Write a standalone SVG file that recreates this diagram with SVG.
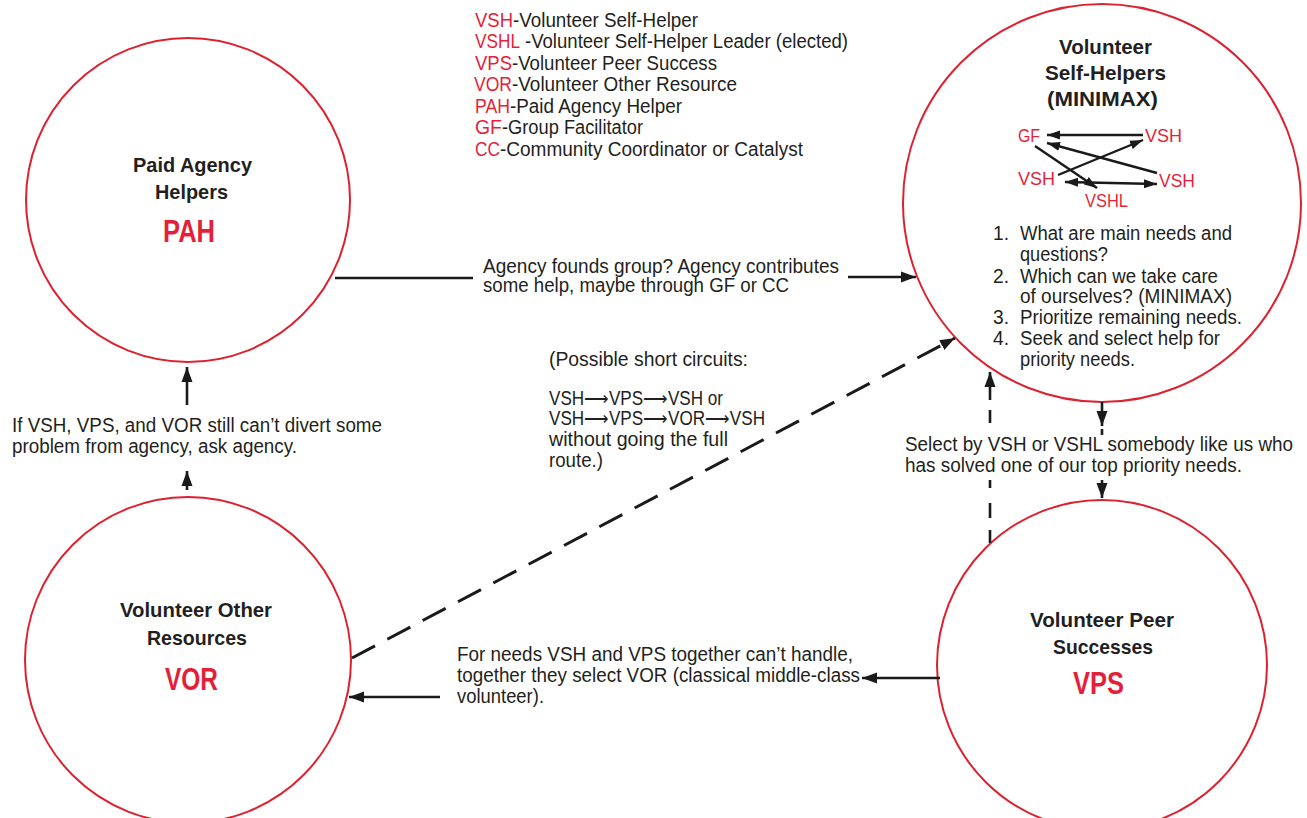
<svg xmlns="http://www.w3.org/2000/svg" width="1307" height="818" viewBox="0 0 1307 818">
<style>
text{font-family:"Liberation Sans Narrow","Liberation Sans",Arial,sans-serif;font-size:20px;fill:#231f20}
.r{fill:#e41f3a}
.b{font-weight:bold;font-size:21px}
.big{font-size:32px;font-weight:bold;fill:#e41f3a}
.m{font-size:18px;fill:#e41f3a}
.ring{fill:none;stroke:#dc2230;stroke-width:2}
.c{stroke:#1a1a1a;stroke-width:2.6;fill:none}
.d{stroke-dasharray:26 14;stroke-width:3}
.s{stroke:#1a1a1a;stroke-width:2.4;fill:none}
</style>
<defs>
<marker id="ah" markerUnits="userSpaceOnUse" markerWidth="16" markerHeight="12" refX="15" refY="6" orient="auto-start-reverse">
<path d="M0,0.5 L15,6 L0,11.5 z" fill="#1a1a1a"/>
</marker>
<marker id="sh" markerUnits="userSpaceOnUse" markerWidth="14" markerHeight="10" refX="13" refY="5" orient="auto-start-reverse">
<path d="M0,0.5 L13,5 L0,9.5 z" fill="#1a1a1a"/>
</marker>
</defs>
<rect width="1307" height="818" fill="#ffffff"/>

<g id="legend">
<text x="475" y="27" class="r" textLength="38" lengthAdjust="spacingAndGlyphs">VSH</text>
<text x="513" y="27" textLength="185" lengthAdjust="spacingAndGlyphs">-Volunteer Self-Helper</text>
<text x="475" y="48" class="r" textLength="45" lengthAdjust="spacingAndGlyphs">VSHL</text>
<text x="525" y="48" textLength="323" lengthAdjust="spacingAndGlyphs">-Volunteer Self-Helper Leader (elected)</text>
<text x="475" y="70" class="r" textLength="37" lengthAdjust="spacingAndGlyphs">VPS</text>
<text x="512" y="70" textLength="205" lengthAdjust="spacingAndGlyphs">-Volunteer Peer Success</text>
<text x="474" y="91" class="r" textLength="38" lengthAdjust="spacingAndGlyphs">VOR</text>
<text x="512" y="91" textLength="225" lengthAdjust="spacingAndGlyphs">-Volunteer Other Resource</text>
<text x="475" y="113" class="r" textLength="35" lengthAdjust="spacingAndGlyphs">PAH</text>
<text x="510" y="113" textLength="172" lengthAdjust="spacingAndGlyphs">-Paid Agency Helper</text>
<text x="475" y="134" class="r" textLength="27" lengthAdjust="spacingAndGlyphs">GF</text>
<text x="502" y="134" textLength="141" lengthAdjust="spacingAndGlyphs">-Group Facilitator</text>
<text x="475" y="156" class="r" textLength="25" lengthAdjust="spacingAndGlyphs">CC</text>
<text x="500" y="156" textLength="303" lengthAdjust="spacingAndGlyphs">-Community Coordinator or Catalyst</text>
</g>

<g id="node-PAH">
<circle class="ring" cx="188" cy="200" r="162"/>
<text x="133" y="172" class="b" textLength="119" lengthAdjust="spacingAndGlyphs">Paid Agency</text>
<text x="155" y="199" class="b" textLength="73" lengthAdjust="spacingAndGlyphs">Helpers</text>
<text x="163" y="242" class="big" textLength="52" lengthAdjust="spacingAndGlyphs">PAH</text>
</g>

<g id="node-VOR">
<circle class="ring" cx="188" cy="660" r="163"/>
<text x="120" y="617" class="b" textLength="152" lengthAdjust="spacingAndGlyphs">Volunteer Other</text>
<text x="147" y="645" class="b" textLength="100" lengthAdjust="spacingAndGlyphs">Resources</text>
<text x="165" y="690" class="big" textLength="53" lengthAdjust="spacingAndGlyphs">VOR</text>
</g>

<g id="node-VPS">
<circle class="ring" cx="1102" cy="665" r="165"/>
<text x="1030" y="627" class="b" textLength="144" lengthAdjust="spacingAndGlyphs">Volunteer Peer</text>
<text x="1053" y="654" class="b" textLength="100" lengthAdjust="spacingAndGlyphs">Successes</text>
<text x="1073" y="694" class="big" textLength="51" lengthAdjust="spacingAndGlyphs">VPS</text>
</g>

<g id="node-VSH">
<circle class="ring" cx="1102" cy="203" r="199"/>
<text x="1059" y="54" class="b" textLength="93" lengthAdjust="spacingAndGlyphs">Volunteer</text>
<text x="1045" y="80" class="b" textLength="121" lengthAdjust="spacingAndGlyphs">Self-Helpers</text>
<text x="1047" y="106" class="b" textLength="111" lengthAdjust="spacingAndGlyphs">(MINIMAX)</text>
<text x="1018" y="142" class="m" textLength="22" lengthAdjust="spacingAndGlyphs">GF</text>
<text x="1145" y="142" class="m" textLength="37" lengthAdjust="spacingAndGlyphs">VSH</text>
<text x="1018" y="185" class="m" textLength="37" lengthAdjust="spacingAndGlyphs">VSH</text>
<text x="1159" y="187" class="m" textLength="36" lengthAdjust="spacingAndGlyphs">VSH</text>
<text x="1085" y="207" class="m" textLength="43" lengthAdjust="spacingAndGlyphs">VSHL</text>
<g id="mini-connectors">
<path class="s" d="M1143,135 L1047,135" marker-end="url(#sh)"/>
<path class="s" d="M1058,175 L1143,140" marker-end="url(#sh)"/>
<path class="s" d="M1157,173 L1047,143" marker-end="url(#sh)"/>
<path class="s" d="M1035,146 L1097,188" marker-end="url(#sh)"/>
<path class="s" d="M1065,182 L1157,184" marker-start="url(#sh)" marker-end="url(#sh)"/>
</g>
<text x="993" y="240" textLength="16" lengthAdjust="spacingAndGlyphs">1.</text>
<text x="1020" y="240" textLength="212" lengthAdjust="spacingAndGlyphs">What are main needs and</text>
<text x="1020" y="261" textLength="88" lengthAdjust="spacingAndGlyphs">questions?</text>
<text x="993" y="283" textLength="16" lengthAdjust="spacingAndGlyphs">2.</text>
<text x="1020" y="283" textLength="198" lengthAdjust="spacingAndGlyphs">Which can we take care</text>
<text x="1020" y="303" textLength="212" lengthAdjust="spacingAndGlyphs">of ourselves? (MINIMAX)</text>
<text x="993" y="324" textLength="16" lengthAdjust="spacingAndGlyphs">3.</text>
<text x="1020" y="324" textLength="222" lengthAdjust="spacingAndGlyphs">Prioritize remaining needs.</text>
<text x="993" y="345" textLength="16" lengthAdjust="spacingAndGlyphs">4.</text>
<text x="1020" y="345" textLength="200" lengthAdjust="spacingAndGlyphs">Seek and select help for</text>
<text x="1020" y="366" textLength="115" lengthAdjust="spacingAndGlyphs">priority needs.</text>
</g>

<g id="connectors">
<path class="c" d="M335,278 L473,278"/>
<path class="c" d="M848,277 L916,277" marker-end="url(#ah)"/>
<path class="c" d="M187,405 L187,367" marker-end="url(#ah)"/>
<path class="c" d="M187,490 L187,471" marker-end="url(#ah)"/>
<path class="c" d="M1102,402 L1102,426" marker-end="url(#ah)"/>
<path class="c" d="M1102,429 L1102,435"/>
<path class="c" d="M1102,480 L1102,498" marker-end="url(#ah)"/>
<path class="c" d="M940,678 L862,678" marker-end="url(#ah)"/>
<path class="c" d="M440,697 L349,697" marker-end="url(#ah)"/>
<path class="c d" d="M352,658 L955,338" marker-end="url(#ah)"/>
<path class="c" stroke-width="3" d="M990,543 L990,530 M990,518 L990,503 M990,488 L990,480 M990,423 L990,410"/>
<path class="c" stroke-width="3" d="M990,400 L990,372" marker-end="url(#ah)"/>
</g>

<g id="labels">
<text x="483" y="273" textLength="356" lengthAdjust="spacingAndGlyphs">Agency founds group? Agency contributes</text>
<text x="483" y="292" textLength="306" lengthAdjust="spacingAndGlyphs">some help, maybe through GF or CC</text>
<text x="12" y="432" textLength="370" lengthAdjust="spacingAndGlyphs">If VSH, VPS, and VOR still can’t divert some</text>
<text x="12" y="453" textLength="285" lengthAdjust="spacingAndGlyphs">problem from agency, ask agency.</text>
<text x="905" y="451" textLength="388" lengthAdjust="spacingAndGlyphs">Select by VSH or VSHL somebody like us who</text>
<text x="905" y="472" textLength="337" lengthAdjust="spacingAndGlyphs">has solved one of our top priority needs.</text>
<text x="549" y="366" textLength="199" lengthAdjust="spacingAndGlyphs">(Possible short circuits:</text>
<text x="549" y="405" textLength="174" lengthAdjust="spacingAndGlyphs">VSH⟶VPS⟶VSH or</text>
<text x="549" y="425" textLength="216" lengthAdjust="spacingAndGlyphs">VSH⟶VPS⟶VOR⟶VSH</text>
<text x="549" y="446" textLength="179" lengthAdjust="spacingAndGlyphs">without going the full</text>
<text x="549" y="467" textLength="54" lengthAdjust="spacingAndGlyphs">route.)</text>
<text x="457" y="661" textLength="396" lengthAdjust="spacingAndGlyphs">For needs VSH and VPS together can’t handle,</text>
<text x="457" y="682" textLength="403" lengthAdjust="spacingAndGlyphs">together they select VOR (classical middle-class</text>
<text x="457" y="703" textLength="87" lengthAdjust="spacingAndGlyphs">volunteer).</text>
</g>
</svg>
